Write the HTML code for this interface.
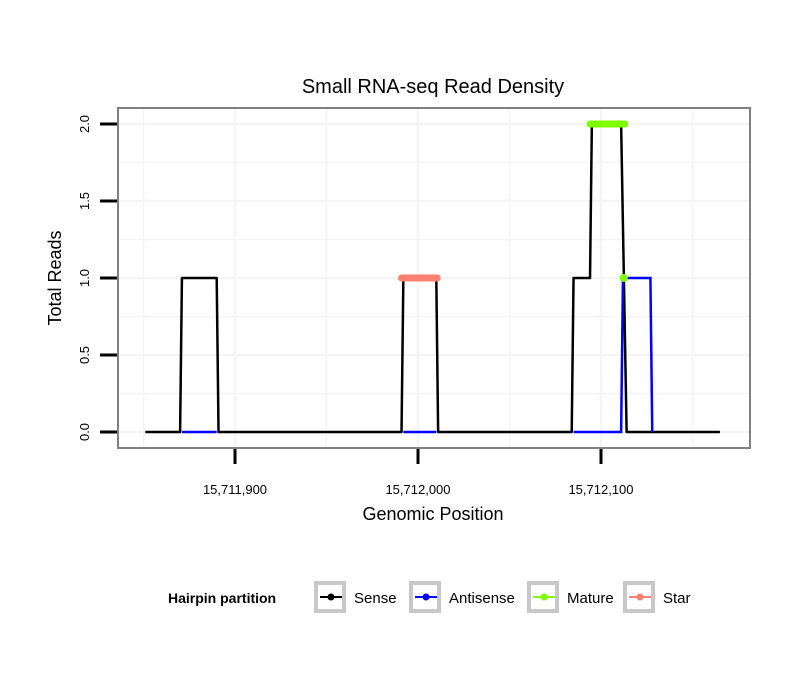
<!DOCTYPE html>
<html><head><meta charset="utf-8"><style>
body{margin:0;background:#fff}
svg{font-family:"Liberation Sans",sans-serif}
</style></head><body>
<svg id="chart" width="810" height="690" xmlns="http://www.w3.org/2000/svg">
<rect width="810" height="690" fill="#fff"/>
<text x="433" y="93" font-size="20" text-anchor="middle">Small RNA-seq Read Density</text>
<g id="grid"></g>
<g id="series"></g>
<rect x="118" y="108" width="632" height="340" fill="none" stroke="#808080" stroke-width="2"/>
<g id="axes"></g>
<text x="433" y="520" font-size="18" text-anchor="middle">Genomic Position</text>
<text transform="translate(61,278) rotate(-90)" font-size="18" text-anchor="middle">Total Reads</text>
<g>
<text x="168" y="603" font-size="14" font-weight="bold">Hairpin partition</text>
<g id="legend"></g>
</g>
</svg>
<script>
const base = 15712000;
const xTicks = [15711900, 15712000, 15712100];
const xTickLabels = ["15,711,900", "15,712,000", "15,712,100"];
const yTicks = [0, 0.5, 1, 1.5, 2];
const yTickLabels = ["0.0", "0.5", "1.0", "1.5", "2.0"];
const senseX = [-149,-130,-129,-110,-109,-9,-8,10,11,84,85,94,95,111,114,165];
const senseY = [0,0,1,1,0,0,1,1,0,0,1,1,2,2,0,0];
const antiSegX = [[-129,-110],[-8,10],[85,111,112,127,128]];
const antiSegY = [[0,0],[0,0],[0,0,1,1,0]];
const matureX = [94,113];
const matureY = [2,2];
const matureDotX = [112.5];
const matureDotY = [1];
const starX = [-9,10.5];
const starY = [1,1];
const legendNames = ["Sense","Antisense","Mature","Star"];
const legendColors = ["#000000","#0000ff","#7fff00","#fa8072"];

const NS="http://www.w3.org/2000/svg";
const xs = v => 418 + (v - (v>100000?base:0)) * 1.83;
const ys = v => 432 - v * 154;
function mk(tag, attrs, parent){const e=document.createElementNS(NS,tag);for(const k in attrs)e.setAttribute(k,attrs[k]);parent.appendChild(e);return e;}
const grid=document.getElementById('grid'), ser=document.getElementById('series'), ax=document.getElementById('axes'), lg=document.getElementById('legend');

for(let v=-150; v<=150; v+=50){
  const g=mk('line',{x1:xs(v),x2:xs(v),y1:109,y2:447,stroke:'#f5f5f5','stroke-width':v%100===0?2.5:1.5},grid);
  
  
}
for(let v=0; v<=2; v+=0.25){
  const g=mk('line',{x1:119,x2:749,y1:ys(v),y2:ys(v),stroke:'#f5f5f5','stroke-width':(v*2)%1===0?2.5:1.5},grid);
  
  
}
const pts=(X,Y)=>X.map((x,i)=>xs(x)+','+ys(Y[i])).join(' ');
let s=mk('polyline',{points:pts(senseX,senseY),fill:'none',stroke:'#000','stroke-width':2.5,'stroke-linejoin':'round'},ser);


antiSegX.forEach((X,i)=>{
  const a=mk('polyline',{points:pts(X,antiSegY[i]),fill:'none',stroke:'#0000ff','stroke-width':2.5},ser);
  
  
});
let st=mk('polyline',{points:pts(starX,starY),fill:'none',stroke:'#fa8072','stroke-width':7,'stroke-linecap':'round'},ser);


let m=mk('polyline',{points:pts(matureX,matureY),fill:'none',stroke:'#7fff00','stroke-width':7,'stroke-linecap':'round'},ser);


matureDotX.forEach((x,i)=>{
  const d=mk('circle',{cx:xs(x),cy:ys(matureDotY[i]),r:4,fill:'#7fff00'},ser);
  
  
});
yTicks.forEach((v,i)=>{
  const t=mk('line',{x1:100,x2:117,y1:ys(v),y2:ys(v),stroke:'#000','stroke-width':3},ax);
  
  
  const l=mk('text',{transform:`translate(89,${ys(v)}) rotate(-90)`,'font-size':13,'text-anchor':'middle'},ax);
  l.textContent=yTickLabels[i];
  
  
});
xTicks.forEach((v,i)=>{
  const t=mk('line',{x1:xs(v),x2:xs(v),y1:449,y2:464,stroke:'#000','stroke-width':3},ax);
  
  
  const l=mk('text',{x:xs(v),y:494,'font-size':13,'text-anchor':'middle'},ax);
  l.textContent=xTickLabels[i];
  
  
});
const keyX=[314,409,527,623], txtX=[354,449,567,663];
legendNames.forEach((n,i)=>{
  const b=mk('rect',{x:keyX[i]+2,y:583,width:28,height:28,fill:'#fff',stroke:'#c8c8c8','stroke-width':4},lg);
  
  
  mk('line',{x1:keyX[i]+6,x2:keyX[i]+28,y1:597,y2:597,stroke:legendColors[i],'stroke-width':2},lg);
  mk('circle',{cx:keyX[i]+17,cy:597,r:3.5,fill:legendColors[i]},lg);
  const t=mk('text',{x:txtX[i],y:603,'font-size':15},lg);
  t.textContent=n;
  
  
});
</script>
</body></html>
